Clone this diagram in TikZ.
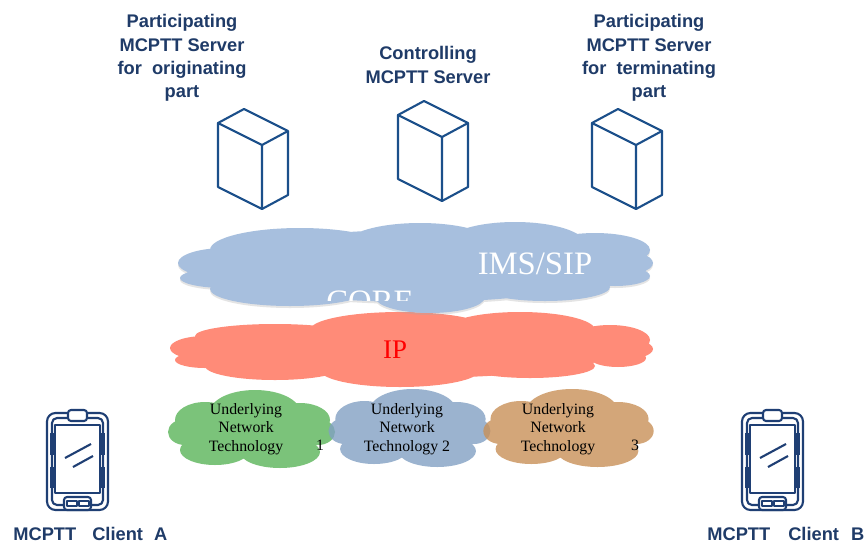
\documentclass[tikz,border=0pt]{standalone}
\usepackage{fontspec}
\setmainfont{Liberation Serif}
\setsansfont{Liberation Sans}
\definecolor{navy}{HTML}{1F3B68}
\definecolor{srvblue}{HTML}{1B4F8A}
\definecolor{phone}{HTML}{1F3F74}
\definecolor{imsblue}{HTML}{A7BFDE}
\definecolor{ipred}{HTML}{FF8B78}
\definecolor{iptext}{HTML}{FF0000}
\definecolor{ungreen}{HTML}{5BB559}
\definecolor{unblue}{HTML}{82A0C3}
\definecolor{untan}{HTML}{C99058}
\newcommand\imsshape{(416,266) ellipse [x radius=205, y radius=36]
  (300,250) ellipse [x radius=90, y radius=22] (420,245) ellipse [x radius=75, y radius=22]
  (515,244) ellipse [x radius=70, y radius=22] (595,250) ellipse [x radius=55, y radius=17]
  (225,263) ellipse [x radius=47, y radius=15] (610,263) ellipse [x radius=43, y radius=14]
  (290,289) ellipse [x radius=80, y radius=17] (430,297) ellipse [x radius=55, y radius=16]
  (545,287) ellipse [x radius=65, y radius=14] (225,278) ellipse [x radius=45, y radius=10]
  (615,276) ellipse [x radius=35, y radius=10]}
\newcommand\ipshape{(411,350) ellipse [x radius=205, y radius=28]
  (275,336) ellipse [x radius=80, y radius=12] (400,330) ellipse [x radius=90, y radius=18]
  (520,330) ellipse [x radius=75, y radius=18] (610,340) ellipse [x radius=40, y radius=15]
  (205,348) ellipse [x radius=35, y radius=12] (620,349) ellipse [x radius=33, y radius=11]
  (275,366) ellipse [x radius=70, y radius=14] (400,370) ellipse [x radius=80, y radius=17]
  (530,366) ellipse [x radius=65, y radius=12] (205,360) ellipse [x radius=30, y radius=8]
  (618,358) ellipse [x radius=28, y radius=9]}
\newcommand\netshape{(0,1) ellipse [x radius=68, y radius=27]
  (4,-17) ellipse [x radius=45, y radius=22] (-46,-9) ellipse [x radius=30, y radius=18]
  (49,-9) ellipse [x radius=30, y radius=17] (-66,3) ellipse [x radius=17, y radius=13]
  (67,3) ellipse [x radius=17, y radius=13] (-36,21) ellipse [x radius=35, y radius=15]
  (29,23) ellipse [x radius=40, y radius=16]}
\tikzset{
  srvline/.style={draw=srvblue, line width=1.2pt, line join=round},
  phline/.style={draw=phone, line width=1.2pt, line join=round},
  srvlbl/.style={text=navy, font=\sffamily\bfseries\fontsize{10.4}{13.3}\selectfont, align=center},
  clientlbl/.style={text=navy, font=\sffamily\bfseries\fontsize{10.4}{13.3}\selectfont, anchor=base west, inner sep=0pt},
  netfill/.style={fill opacity=0.8},
  nettxt/.style={font=\fontsize{9}{10.5}\selectfont, align=center},
  bigtxt/.style={font=\fontsize{18.6}{20}\selectfont, anchor=base}
}
\begin{document}
\begin{tikzpicture}[x=0.02cm, y=-0.02cm]
  \fill[white] (0,0) rectangle (866,545);
  \useasboundingbox (0,0) rectangle (866,545);

  % server labels
  \node[srvlbl] (lblorig) at (182,58) {Participating\\MCPTT Server\\for\ \ originating\\part};
  \node[srvlbl] (lblctrl) at (428,65) {Controlling\\MCPTT Server};
  \node[srvlbl] (lblterm) at (649,58) {Participating\\MCPTT Server\\for\ \ terminating\\part};

  % server boxes
  \foreach \sx/\sy in {218/123, 398/115, 592/123}{
    \draw[srvline] (\sx,\sy) -- ++(44,22) -- ++(0,64) -- ++(-44,-22) -- cycle;
    \draw[srvline] (\sx,\sy) -- ++(26,-14) -- ++(44,22) -- ++(-26,14);
    \draw[srvline] (\sx+70,\sy+8) -- ++(0,64) -- ++(-26,14);
  }

  % core network
  \fill[ipred] \ipshape;
  \fill[black!35, opacity=0.3, shift={(0,2)}] \imsshape;
  \fill[imsblue] \imsshape;
  \node[bigtxt, text=white] (imstxt) at (535,274) {IMS/SIP};
  \begin{scope}
    \clip (300,280) rectangle (440,300);
    \node[bigtxt, text=white] (coretxt) at (370,312) {CORE};
  \end{scope}
  \node[font=\fontsize{15.3}{16}\selectfont, text=iptext, anchor=base] (iptxt) at (395,358) {IP};

  % access networks
  \fill[ungreen, netfill, shift={(251,429)}] \netshape;
  \fill[unblue, netfill, shift={(409,428)}, xscale=0.97] \netshape;
  \fill[untan, netfill, shift={(568,428)}, xscale=1.02] \netshape;
  \node[nettxt] (txtA) at (246,429) {Underlying\\Network\\Technology};
  \node[nettxt, anchor=base] (numA) at (320,450) {1};
  \node[nettxt] (txtB) at (407,429) {Underlying\\Network\\Technology 2};
  \node[nettxt] (txtC) at (558,429) {Underlying\\Network\\Technology};
  \node[nettxt, anchor=base] (numC) at (635,450) {3};

  % clients
  \foreach \px in {47, 742}{
    \begin{scope}[shift={(\px,0)}]
      \draw[phline, rounded corners=0.17cm] (0,413) rectangle (61,510);
      \draw[phline, rounded corners=0.1cm] (5,418) rectangle (56,505);
      \draw[phline] (8,425) rectangle (53,493);
      \draw[phline, fill=white, rounded corners=0.06cm] (21,410) rectangle (40,421);
      \draw[phline, fill=white, rounded corners=0.06cm] (17,497) rectangle (44,510);
      \draw[phline] (20,501) rectangle (30,506);
      \draw[phline] (32,501) rectangle (42,506);
      \draw[phline, line width=2pt] (5,433) -- (5,455);
      \draw[phline, line width=2pt] (5,467) -- (5,488);
      \draw[phline, line width=2pt] (56,433) -- (56,455);
      \draw[phline, line width=2pt] (56,467) -- (56,488);
      \draw[phline] (18,458) -- (44,444);
      \draw[phline] (26,467) -- (46,456);
    \end{scope}
  }
  \node[clientlbl] (clientA) at (13,540) {MCPTT\hspace{0.32cm}Client\hspace{0.22cm}A};
  \node[clientlbl] (clientB) at (707,540) {MCPTT\hspace{0.36cm}Client\hspace{0.24cm}B};
\end{tikzpicture}
\end{document}
